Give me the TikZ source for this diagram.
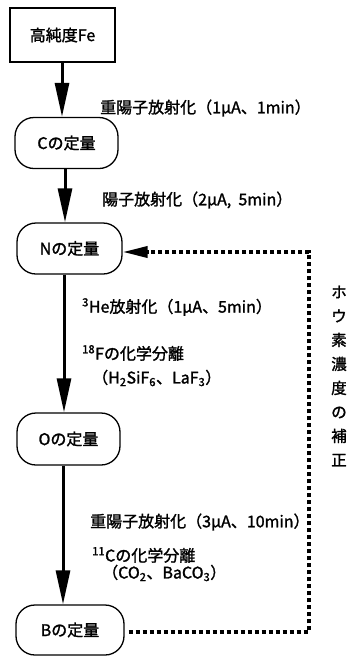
\documentclass[tikz,border=0pt]{standalone}
\usepackage{fontspec}
\setmainfont{Noto Sans CJK JP}[FakeBold=1.5]
\usetikzlibrary{arrows.meta}
\begin{document}
\begin{tikzpicture}[x=1pt,y=-1pt,
  txt/.style={font=\fontsize{16}{18}\selectfont, inner sep=0pt},
  lab/.style={txt, anchor=west},
  sqbox/.style={draw, line width=1.3pt, rectangle, minimum width=105pt, minimum height=54pt, txt},
  rbox/.style={draw, line width=1.3pt, rectangle, rounded corners=19pt, minimum width=104pt, minimum height=51pt, txt},
  flow/.style={line width=3pt, -{Triangle[length=34pt,width=14pt]}},
  dotline/.style={line width=3.8pt, dash pattern=on 4pt off 3pt, line join=miter}
]
\useasboundingbox (0,0) rectangle (353,657);
\node[sqbox] (fe) at (62.5,35) {高純度Fe};
\node[rbox, minimum width=103pt] (c) at (66.5,143) {Cの定量};
\node[rbox, minimum width=105pt] (n) at (69.5,248.5) {Nの定量};
\node[rbox, minimum width=103pt, minimum height=52pt] (o) at (68.5,439) {Oの定量};
\node[rbox, minimum width=108pt, minimum height=50pt] (b) at (70,630) {Bの定量};

\coordinate (a1) at (62,0);
\coordinate (a2) at (65,0);
\coordinate (a3) at (64,0);
\coordinate (a4) at (63,0);
\draw[flow] (fe.south -| a1) -- (c.north -| a1);
\draw[flow] (c.south -| a2) -- (n.north -| a2);
\draw[flow] (n.south -| a3) -- (o.north -| a3);
\draw[flow] (o.south -| a4) -- (b.north -| a4);

\node[lab] (l1) at (100,108) {重陽子放射化（1μA、1min）};
\node[lab] (l2) at (102,200) {陽子放射化（2μA,\ \ 5min）};
\node[lab] (l3) at (82,307) {\textsuperscript{3}He放射化（1μA、5min）};
\node[lab] (l4) at (82,353) {\textsuperscript{18}Fの化学分離};
\node[lab] (l5) at (92,378) {（H\textsubscript{2}SiF\textsubscript{6}、LaF\textsubscript{3}）};
\node[lab] (l6) at (90,522) {重陽子放射化（3μA、10min）};
\node[lab] (l7) at (92,555) {\textsuperscript{11}Cの化学分離};
\node[lab] (l8) at (102,573) {（CO\textsubscript{2}、BaCO\textsubscript{3}）};

\coordinate (ct) at (309,252);
\coordinate (cb) at (309,632);
\draw[dotline] ([xshift=4pt]b.east |- cb) -- (cb) -- (ct) -- ([xshift=25pt]n.east |- ct);
\draw[line width=3.6pt, -{Triangle[length=25pt,width=11pt]}] ([xshift=26pt]n.east |- ct) -- (n.east |- ct);

\node[txt, align=center, font=\fontsize{15.5}{24}\selectfont] (v) at (339,376) {ホ\\ウ\\素\\濃\\度\\の\\補\\正};
\end{tikzpicture}
\end{document}
